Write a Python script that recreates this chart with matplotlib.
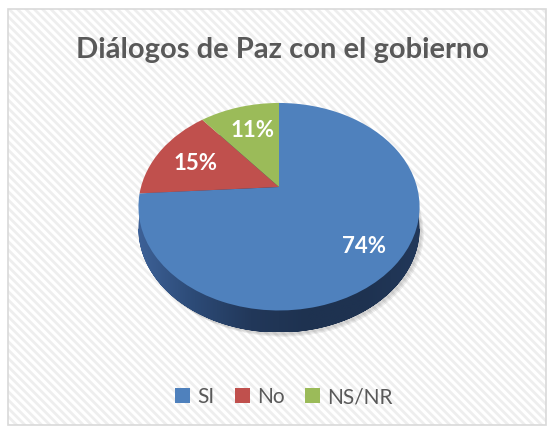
import matplotlib
matplotlib.use("Agg")
import matplotlib.pyplot as plt
from matplotlib.patches import Rectangle, Patch, Polygon
from matplotlib.transforms import Transform, Affine2D
from matplotlib.colors import LinearSegmentedColormap
import numpy as np

categories = ["SI", "No", "NS/NR"]
values = [74, 15, 11]
colors = ["#4F81BD", "#C0504D", "#9BBB59"]
title = "Diálogos de Paz con el gobierno"

W, H = 551, 432
fig = plt.figure(figsize=(W / 100, H / 100), dpi=100)
fig.patch.set_facecolor("white")

plt.rcParams["hatch.color"] = "#EEEEEE"
plt.rcParams["hatch.linewidth"] = 2.0

# background with diagonal stripes and border
bg = Rectangle((8 / W, 1 - 425 / H), (546 - 8) / W, (425 - 9) / H,
               transform=fig.transFigure, facecolor="white",
               edgecolor="#EEEEEE", hatch="\\\\\\\\", linewidth=0, zorder=-5)
fig.patches.append(bg)
border = Rectangle((8 / W, 1 - 425 / H), (546 - 8) / W, (425 - 9) / H,
                   transform=fig.transFigure, facecolor="none",
                   edgecolor="#D9D9D9", linewidth=1.2, zorder=-4)
fig.patches.append(border)


class Persp(Transform):
    """Tilted-disc perspective: unit circle -> pixel coordinates."""
    input_dims = 2
    output_dims = 2
    is_separable = False
    has_inverse = False

    def __init__(self, cx, cy, a, s, k, dy=0.0):
        super().__init__()
        self.cx, self.cy, self.a, self.s, self.k, self.dy = cx, cy, a, s, k, dy

    def transform_non_affine(self, values):
        v = np.asarray(values, dtype=float)
        x, y = v[:, 0], v[:, 1]
        w = 1.0 + self.k * y
        return np.column_stack([self.cx + self.a * x / w,
                                self.cy - self.s * y / w + self.dy])


cx, cy, a, s, k = 279, 187, 138, 100, 0.19
depth = 22

ax = fig.add_axes([0, 0, 1, 1])
ax.set_zorder(2)
ax.patch.set_alpha(0)

persp = Persp(cx, cy, a, s, k)

wedges, texts, autotexts = ax.pie(
    values, startangle=90, counterclock=False, radius=1, center=(0, 0),
    colors=colors, autopct="%d%%", pctdistance=0.73,
    wedgeprops=dict(linewidth=0, zorder=3),
    textprops=dict(color="white", fontsize=16, fontweight="bold", family="Lato", zorder=4))

ax.set_xlim(0, W)
ax.set_ylim(H, 0)
ax.axis("off")

for w_ in wedges:
    w_.set_transform(persp + ax.transData)
for t in autotexts:
    t.set_transform(persp + ax.transData + Affine2D().translate(4, -4))

# side of the disc (extrusion of the projected rim)
th = np.linspace(0, 2 * np.pi, 721)
rim = persp.transform(np.column_stack([np.cos(th), np.sin(th)]))
i_r = np.argmax(rim[:, 0])
i_l = np.argmax(np.where(th < 1.5 * np.pi, 1, 0) * (-rim[:, 0]) + np.where(th < 1.5 * np.pi, 0, -1e9))
upper = rim[i_r:i_l + 1]
lower = np.vstack([rim[i_l:], rim[:i_r + 1]]) + np.array([0, depth])
hull = np.vstack([upper, lower])

# soft shadow
for j, al in enumerate([0.05, 0.05, 0.06]):
    ax.add_patch(Polygon(hull + np.array([2 + j, 2 + j]), closed=True,
                         facecolor="#000000", alpha=al, edgecolor="none", zorder=1))

side_cmap = LinearSegmentedColormap.from_list(
    "side", ["#3D6197", "#2C4A76", "#22385A", "#1E3250", "#1E3250", "#22385A"])
clip = Polygon(hull, closed=True, facecolor="none", edgecolor="none",
               transform=ax.transData)
ax.add_patch(clip)
grad = np.linspace(0, 1, 256).reshape(1, -1)
img = ax.imshow(grad, cmap=side_cmap, aspect="auto",
                extent=[rim[:, 0].min(), rim[:, 0].max(), hull[:, 1].max(), hull[:, 1].min()],
                zorder=2, interpolation="bilinear")
img.set_clip_path(clip)
ax.set_xlim(0, W)
ax.set_ylim(H, 0)

fig.text(282 / W, 1 - 50 / H, title, ha="center", va="center",
         fontsize=21, fontweight="bold", color="#595959", family="Lato")

handles = [Patch(facecolor=c, edgecolor="none") for c in colors]
leg = fig.legend(handles, categories, loc="center", bbox_to_anchor=(284 / W, 1 - 397 / H),
                 ncol=3, frameon=False, handlelength=0.7, handleheight=0.7,
                 handletextpad=0.35, columnspacing=1.0,
                 prop=dict(family="Lato", size=15))
for t in leg.get_texts():
    t.set_color("#595959")

fig.savefig("out.png", dpi=100)
